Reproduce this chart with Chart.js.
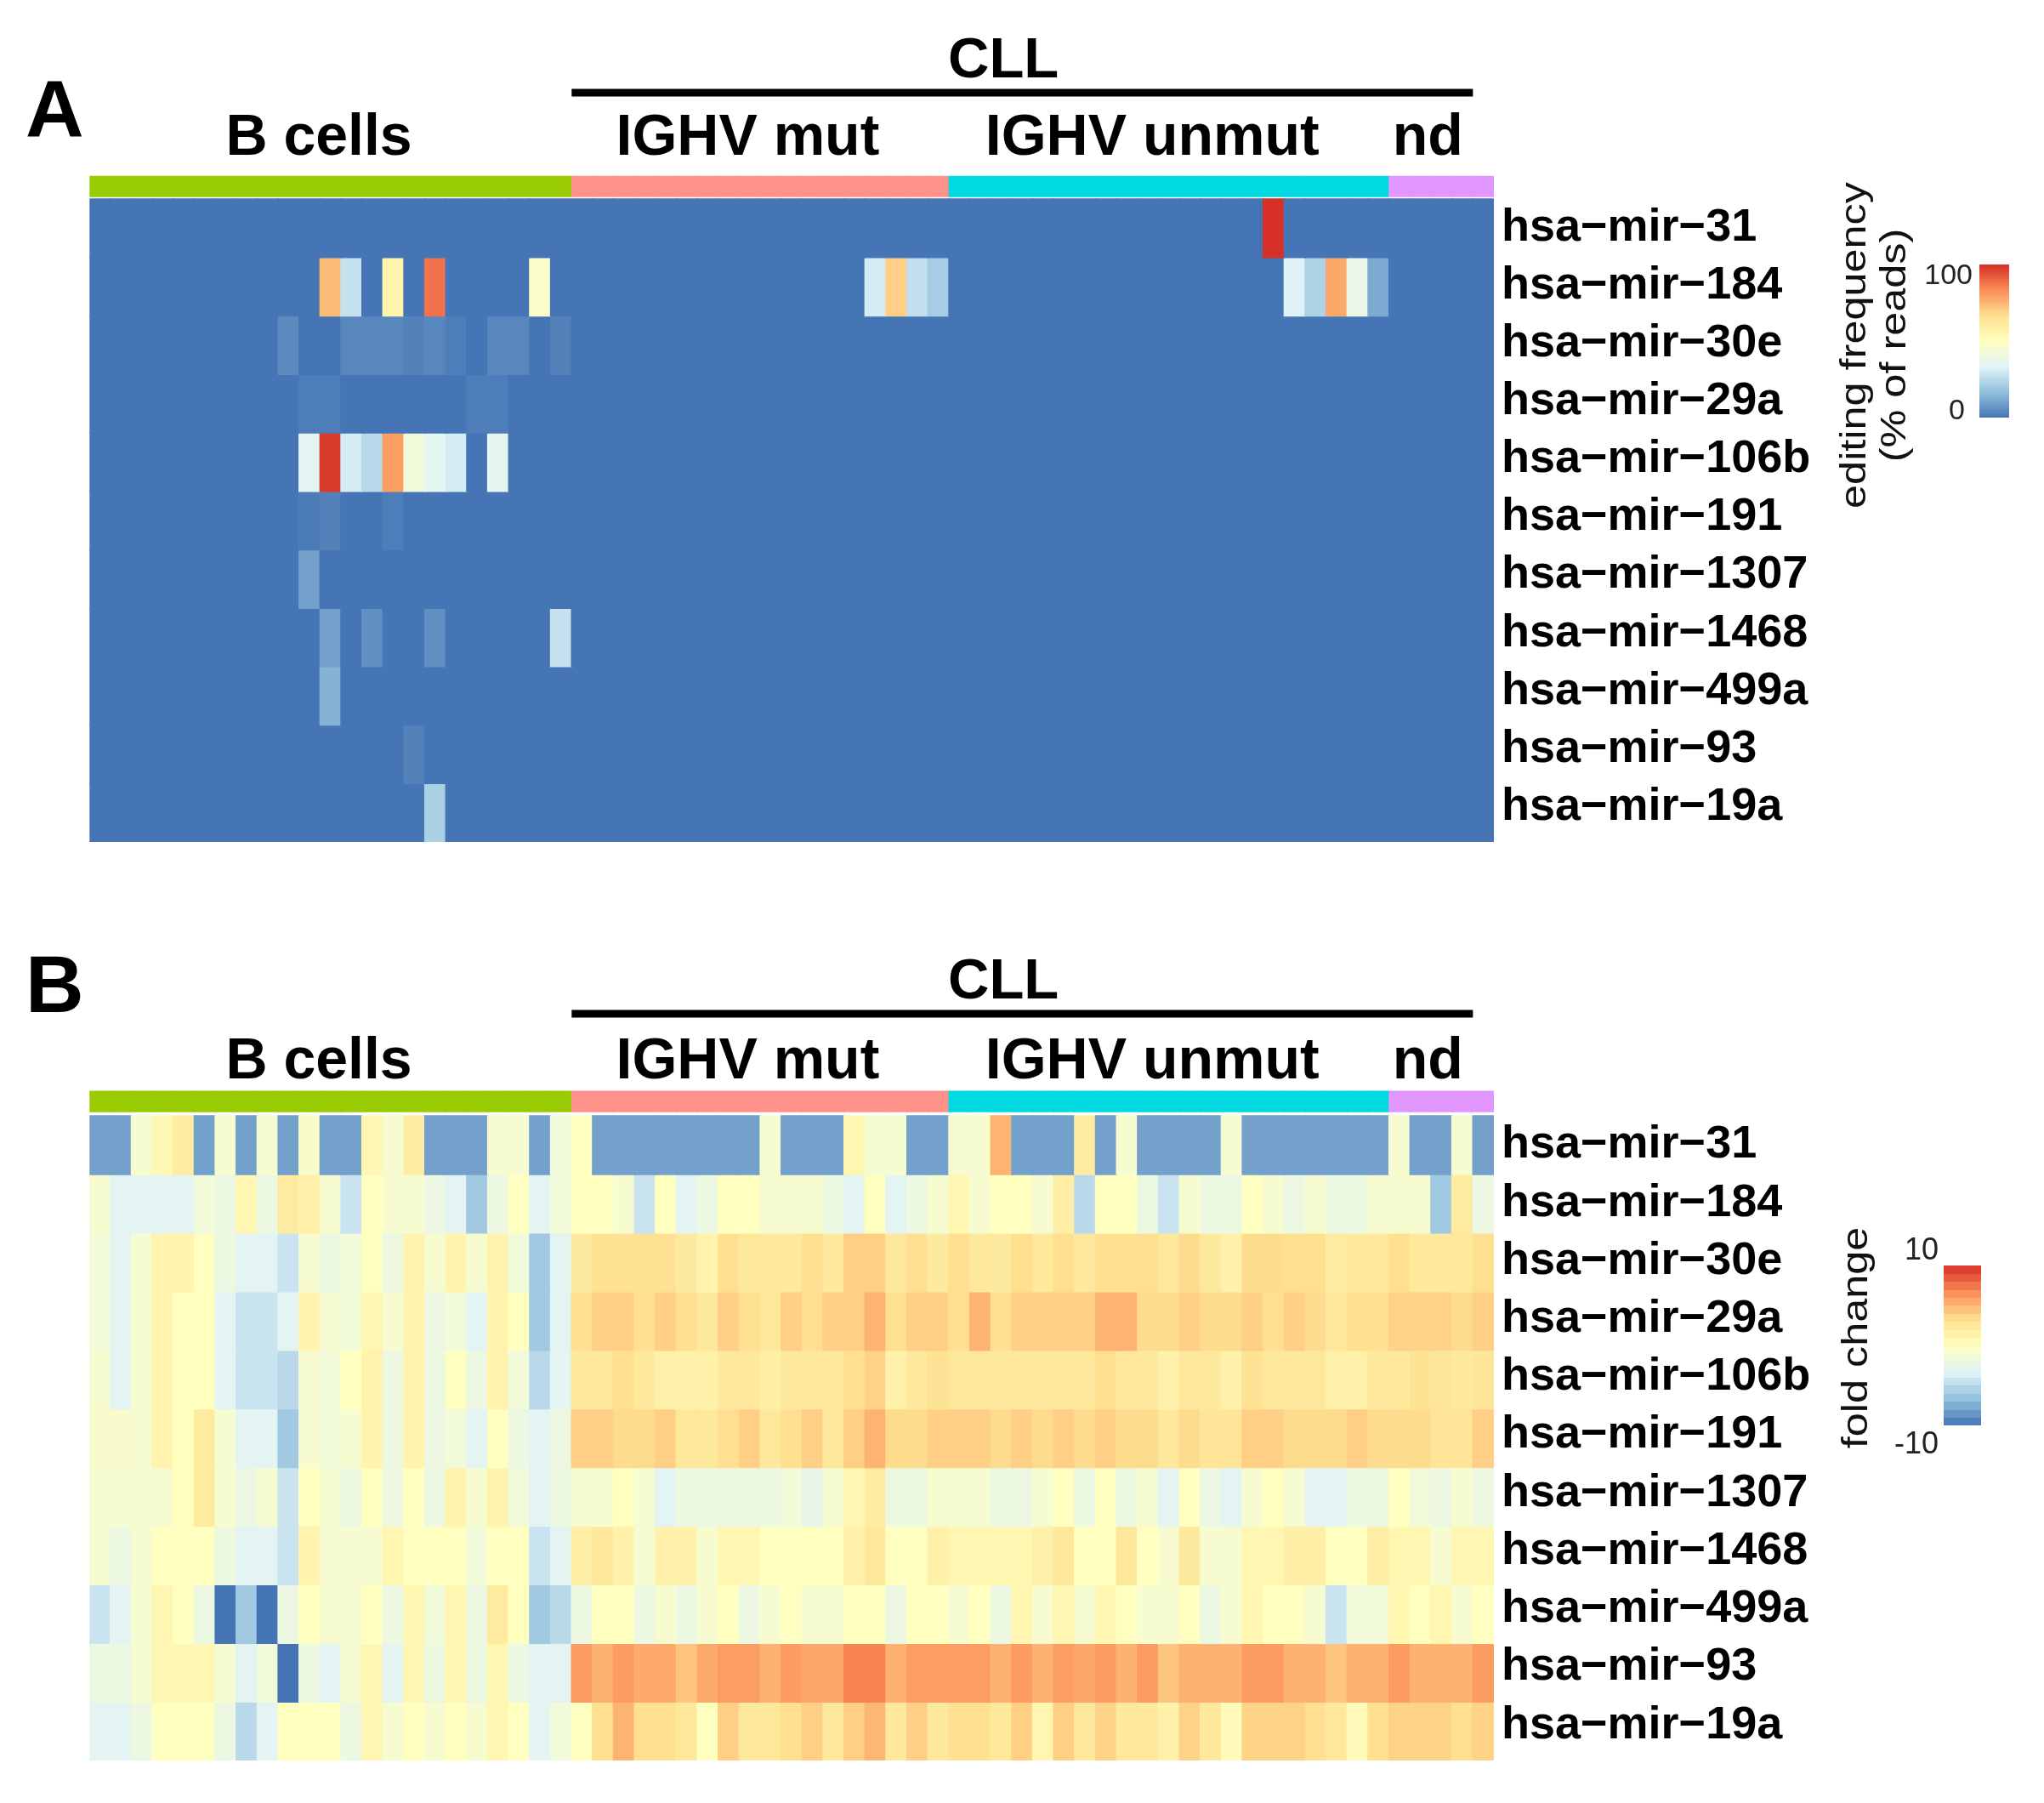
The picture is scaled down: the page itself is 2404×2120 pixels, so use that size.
<!DOCTYPE html>
<html>
<head>
<meta charset="utf-8">
<script src="https://cdn.jsdelivr.net/npm/chart.js@4.4.1/dist/chart.umd.min.js"></script>
<style>
html,body{margin:0;padding:0;background:#ffffff;}
#wrap{position:relative;width:2404px;height:2120px;background:#fff;}
canvas{position:absolute;left:0;}
#cA{top:0;}
#cB{top:1060px;}
</style>
</head>
<body>
<div id="wrap">
<canvas id="cA" width="2404" height="1060"></canvas>
<canvas id="cB" width="2404" height="1060"></canvas>
</div>
<script>
// ---------------- DATA ----------------
const mirnas = ['hsa\u2212mir\u221231','hsa\u2212mir\u2212184','hsa\u2212mir\u221230e','hsa\u2212mir\u221229a',
  'hsa\u2212mir\u2212106b','hsa\u2212mir\u2212191','hsa\u2212mir\u22121307','hsa\u2212mir\u22121468',
  'hsa\u2212mir\u2212499a','hsa\u2212mir\u221293','hsa\u2212mir\u221219a'];
const groupNames = ['B cells','IGHV mut','IGHV unmut','nd'];
const groupSizes = [23, 18, 21, 5];
const superGroup = 'CLL';

// Panel A: editing frequency (% of reads); columns: B cells | IGHV mut | IGHV unmut | nd
const edit_mir31 = [
  0,0,0,0,0,0,0,0,0,0,0,0,0,0,0,0,0,0,0,0,0,0,0,
  0,0,0,0,0,0,0,0,0,0,0,0,0,0,0,0,0,0,
  0,0,0,0,0,0,0,0,0,0,0,0,0,0,0,100,0,0,0,0,0,
  0,0,0,0,0];
const edit_mir184 = [
  0,0,0,0,0,0,0,0,0,0,0,74,28,0,56,0,88,0,0,0,0,47,0,
  0,0,0,0,0,0,0,0,0,0,0,0,0,0,31,70,27,21,
  0,0,0,0,0,0,0,0,0,0,0,0,0,0,0,0,33,23,78,38,12,
  0,0,0,0,0];
const edit_mir30e = [
  0,0,0,0,0,0,0,0,0,5,0,0,4,4,4,3,4,2,0,4,4,0,3,
  0,0,0,0,0,0,0,0,0,0,0,0,0,0,0,0,0,0,
  0,0,0,0,0,0,0,0,0,0,0,0,0,0,0,0,0,0,0,0,0,
  0,0,0,0,0];
const edit_mir29a = [
  0,0,0,0,0,0,0,0,0,0,2,2,0,0,0,0,0,0,2,2,0,0,0,
  0,0,0,0,0,0,0,0,0,0,0,0,0,0,0,0,0,0,
  0,0,0,0,0,0,0,0,0,0,0,0,0,0,0,0,0,0,0,0,0,
  0,0,0,0,0];
const edit_mir106b = [
  0,0,0,0,0,0,0,0,0,0,35,98,31,25,80,42,36,31,0,36,0,0,0,
  0,0,0,0,0,0,0,0,0,0,0,0,0,0,0,0,0,0,
  0,0,0,0,0,0,0,0,0,0,0,0,0,0,0,0,0,0,0,0,0,
  0,0,0,0,0];
const edit_mir191 = [
  0,0,0,0,0,0,0,0,0,0,1.5,3,0,0,2,0,0,0,0,0,0,0,0,
  0,0,0,0,0,0,0,0,0,0,0,0,0,0,0,0,0,0,
  0,0,0,0,0,0,0,0,0,0,0,0,0,0,0,0,0,0,0,0,0,
  0,0,0,0,0];
const edit_mir1307 = [
  0,0,0,0,0,0,0,0,0,0,10,0,0,0,0,0,0,0,0,0,0,0,0,
  0,0,0,0,0,0,0,0,0,0,0,0,0,0,0,0,0,0,
  0,0,0,0,0,0,0,0,0,0,0,0,0,0,0,0,0,0,0,0,0,
  0,0,0,0,0];
const edit_mir1468 = [
  0,0,0,0,0,0,0,0,0,0,0,10,0,6,0,0,6,0,0,0,0,0,28,
  0,0,0,0,0,0,0,0,0,0,0,0,0,0,0,0,0,0,
  0,0,0,0,0,0,0,0,0,0,0,0,0,0,0,0,0,0,0,0,0,
  0,0,0,0,0];
const edit_mir499a = [
  0,0,0,0,0,0,0,0,0,0,0,14,0,0,0,0,0,0,0,0,0,0,0,
  0,0,0,0,0,0,0,0,0,0,0,0,0,0,0,0,0,0,
  0,0,0,0,0,0,0,0,0,0,0,0,0,0,0,0,0,0,0,0,0,
  0,0,0,0,0];
const edit_mir93 = [
  0,0,0,0,0,0,0,0,0,0,0,0,0,0,0,3,0,0,0,0,0,0,0,
  0,0,0,0,0,0,0,0,0,0,0,0,0,0,0,0,0,0,
  0,0,0,0,0,0,0,0,0,0,0,0,0,0,0,0,0,0,0,0,0,
  0,0,0,0,0];
const edit_mir19a = [
  0,0,0,0,0,0,0,0,0,0,0,0,0,0,0,0,22,0,0,0,0,0,0,
  0,0,0,0,0,0,0,0,0,0,0,0,0,0,0,0,0,0,
  0,0,0,0,0,0,0,0,0,0,0,0,0,0,0,0,0,0,0,0,0,
  0,0,0,0,0];

// Panel B: fold change (-10 .. 10)
const fc_mir31 = [
  -8,-8,-1,0.7,2,-8,-1,-8,-1,-8,-0.7,-8,-8,0.7,-1,2,-8,-8,-8,-1,-1,-8,-1.5,
  0,-8,-8,-8,-8,-8,-8,-8,-8,-1,-8,-8,-8,1,-1,-1,-8,-8,
  -1,-1,5.1,-8,-8,-8,2,-8,-1,-8,-8,-8,-8,-1,-8,-8,-8,-8,-8,-8,-8,
  -1,-8,-8,-1,-8];
const fc_mir184 = [
  -1,-3,-3,-3,-3,-1.5,-2,1,-2,2.2,1.5,-1,-4.3,0,-1,-1,-2,-3,-6,-2,0,-3,-1.5,
  0,0,-1,-4.3,0,-3,-2,0,0,-1,-1,-1,-2,-3,0,-3,-2,-1,
  1,-1,0,0,-1,1.8,-5,0,0,-2,-4.3,-1,-2,-2,0,-1,-2,-1,-2,-2,-1,
  -1,-1,-6,2.2,-2];
const fc_mir30e = [
  -1.5,-3,-1,1.3,1.3,0,-2,-3,-3,-4.3,-1,-2,-1.5,0,-2,1.3,-1,1.3,-1,1.3,-1.5,-6,-3,
  2.3,3.2,3.2,3.2,3.2,2.3,1.3,3.3,2.5,2.5,2.5,3.3,2.5,4.0,4.0,2.5,3.3,2.3,
  3.3,2.5,2.3,3.3,2.5,3.3,2.5,3.3,3.3,3.3,2.5,3.5,2.5,1.5,3.5,3.5,3.3,3.3,2.2,2.5,2.5,
  3.3,2.5,2.5,2.5,3.3];
const fc_mir29a = [
  -1.5,-3,-1,1.3,0,0,-3,-4.3,-4.3,-3,1.3,-1,-1.5,1,-1,1.3,-2,-1.5,-3,1.3,0,-6,-3,
  3.3,4.0,4.0,3.3,4.0,3.3,2.5,4.0,3.3,2.5,4.0,3.3,4.0,4.0,5.1,3.3,4.0,4.0,
  3.3,5.1,3.3,4.0,4.0,4.0,4.0,5.1,5.1,3.5,3.5,4.0,3.5,3.5,4.0,3.3,4.0,3.5,2.5,3.3,3.3,
  3.9,3.9,3.9,3.5,4.0];
const fc_mir106b = [
  -1,-3,-1,1.3,0,0,-3,-4.3,-4.3,-5,-1,-1.5,0,1.3,-2,1.3,-2,0,-2,1.3,-1.5,-5,-3,
  2.5,2.5,3.3,2.5,1.5,1.5,1.5,2.5,2.5,1.8,2.5,2.5,2.5,3.3,3.9,1.5,2.5,3.0,
  2.5,2.5,2.5,2.5,2.5,2.5,2.5,3.3,2.5,2.5,1.5,2.5,2.5,1.5,3.0,2.5,2.5,2.5,1.5,1.5,2.5,
  2.5,3.0,2.7,2.5,2.7];
const fc_mir191 = [
  -0.8,-0.8,-1,1.3,0,2.2,-1,-3,-3,-6,-1,-1.5,-1,1.3,-2,1.3,-2,-1.5,-3,0,-2,-3,-2,
  4.0,4.0,3.5,3.5,4.0,2.5,2.5,3.3,4.0,2.5,3.3,4.0,2.5,4.0,5.1,3.5,3.5,4.0,
  4.0,4.0,3.5,4.0,3.5,4.0,3.5,4.0,3.5,3.5,2.5,3.5,2.8,2.8,4.0,4.0,3.5,3.5,3.5,4.0,3.5,
  3.5,3.5,2.8,2.8,4.0];
const fc_mir1307 = [
  -1,-1,-1,-1,0,2.2,-1,-2,-1,-4.3,0,-1,-2,0,-2,0,-2,1.3,-1,1.3,-1.5,-3,-2,
  -1,-1,0,-1,-3,-2,-2,-2,-2,-2,-1.5,-2.5,-1,1,2,-2,-2,-1,
  -1,-1,-2,-2,-1,0,-2,0,-2,-1,-3,0,-2,-3,-1,0,-1,-3,-3,-2,-2,
  0,-1.5,-2,-1,-2];
const fc_mir1468 = [
  -1,-2,-1,0,0,0,-2,-3,-3,-4.3,1.3,-1,-1,-1,1,0,0,0,-1.5,0,0,-4.3,-3,
  1.8,2.5,1.5,-1,1.5,1.5,-1,1,1,0,0,0,0,1.5,2.5,0,0,1.5,
  1,1,1,1,1.5,2.5,0,0,2.5,0,-1,2.3,-1,-1,1,1,1.8,1.8,0,0,1.8,
  1,1,-1,1,1];
const fc_mir499a = [
  -4.3,-3,-1,1,0,-2,-10,-6,-10,-2,0,-1,-1,0,-2,1,-1.5,1,-2,2.2,0,-6,-5,
  -2,0,0,-2,-1,-2,-1,0,-2,-1,0,-1,-1,0,0,-2,0,0,
  -1,0,-2,1,-1,1,-1,1,0,-1,-1,0,-2,-1,1,0,0,-1,-4.3,-1.5,-1.5,
  1,0,1,-1,0];
const fc_mir93 = [
  -2,-2,-1,1,1,1,-1,-3,-1.5,-10,-2,-3,-1,1,-3,1,-2,1,-2,1,-2,-3,-3,
  6.1,5.2,6.1,5.5,5.5,4.4,5.5,6.0,6.0,5.2,6.1,5.6,5.6,7,7,5.2,6.0,6.0,
  6.0,6.0,5.2,6.1,5.2,6.0,5.6,6.1,5.2,6.1,4.4,5.2,5.2,5.2,6.1,6.1,5.2,5.2,4.4,5.2,5.2,
  6.1,5.2,5.2,5.2,6.1];
const fc_mir19a = [
  -3,-3,-2,0,0,0,-2,-5,-3,0,0,0,-2,1,-1,0,-1,0,-1,1,0,-3,-1.5,
  0,3.3,5.1,3.3,3.3,2.5,0,4.0,2.5,2.5,3.3,4.0,2.5,4.0,5.0,2.5,4.0,2.5,
  3.3,3.3,2.5,4.0,1,4.0,2.5,3.9,2.5,2.5,1.5,3.9,2.5,0.3,3.9,3.9,3.9,3.3,2.5,0.3,3.3,
  3.9,3.9,3.9,3.3,3.9];

const editRange = [0, 100];
const editTicks = ['100', '0'];
const fcRange = [-10, 10];
const fcTicks = ['10', '-10'];

// ---------------- STYLE ----------------
const FF = "'Liberation Sans', Arial, Helvetica, sans-serif";
Chart.defaults.font.family = FF;
const groupColors = ['#99CC00', '#FF928A', '#00DAE0', '#E096FD'];
const ramp = ['#4575B4','#91BFDB','#E0F3F8','#FFFFBF','#FEE090','#FC8D59','#D73027'];

function hexToRgb(h){ return [parseInt(h.slice(1,3),16), parseInt(h.slice(3,5),16), parseInt(h.slice(5,7),16)]; }
const rampRgb = ramp.map(hexToRgb);
function colorFor(v, lo, hi){
  let t = (v - lo) / (hi - lo);
  t = Math.max(0, Math.min(1, t));
  const p = t * (rampRgb.length - 1);
  const i = Math.min(rampRgb.length - 2, Math.floor(p));
  const f = p - i;
  const a = rampRgb[i], b = rampRgb[i+1];
  const c = a.map((x, k) => Math.round(x + (b[k] - x) * f));
  return `rgb(${c[0]},${c[1]},${c[2]})`;
}

const samples = [];
const sampleGroup = [];
const prefixes = ['B', 'M', 'U', 'N'];
groupSizes.forEach((n, g) => { for (let i = 0; i < n; i++) { samples.push(prefixes[g] + (i+1)); sampleGroup.push(g); } });
const nS = samples.length;

const editMatrix = [edit_mir31, edit_mir184, edit_mir30e, edit_mir29a, edit_mir106b, edit_mir191,
  edit_mir1307, edit_mir1468, edit_mir499a, edit_mir93, edit_mir19a];
const fcMatrix = [fc_mir31, fc_mir184, fc_mir30e, fc_mir29a, fc_mir106b, fc_mir191,
  fc_mir1307, fc_mir1468, fc_mir499a, fc_mir93, fc_mir19a];

// label positions in column units
const groupLabelPos = [10.94, 31.4, 50.7, 63.85];
const cllPos = 43.6, cllLine = [23, 66.0];

const decor = {
  id: 'decor',
  afterDraw(chart, args, o) {
    const ctx = chart.ctx, ca = chart.chartArea;
    const cw = (ca.right - ca.left) / nS;
    const px = u => ca.left + u * cw;
    ctx.save();
    ctx.fillStyle = '#000';
    ctx.textBaseline = 'alphabetic';
    ctx.textAlign = 'left';
    ctx.font = `bold 95px ${FF}`;
    ctx.fillText(o.letter, 30, o.letterY);
    ctx.textAlign = 'center';
    ctx.font = `bold 67px ${FF}`;
    ctx.fillText(superGroup, px(cllPos), o.cllY);
    ctx.fillRect(px(cllLine[0]), o.lineY - 4.5, px(cllLine[1]) - px(cllLine[0]), 9);
    ctx.font = `bold 68px ${FF}`;
    groupNames.forEach((g, i) => ctx.fillText(g, px(groupLabelPos[i]), o.groupY));
    // legend title (rotated)
    ctx.font = `42px ${FF}`;
    o.title.forEach((t, i) => {
      ctx.save();
      ctx.translate(o.titleX[i], o.titleCY);
      ctx.rotate(-Math.PI / 2);
      ctx.scale(1.2, 1);
      ctx.textAlign = 'center';
      ctx.fillStyle = '#111';
      ctx.fillText(t, 0, 0);
      ctx.restore();
    });
    // colour bar
    const [x0, x1, y0, y1] = o.bar;
    const nb = o.bands;
    const bh = (y1 - y0) / nb;
    for (let b = 0; b < nb; b++) {
      const t = (b + 0.5) / nb; // from bottom
      const v = o.range[0] + t * (o.range[1] - o.range[0]);
      ctx.fillStyle = colorFor(v, o.range[0], o.range[1]);
      const yTop = y1 - (b + 1) * bh;
      const yBot = y1 - b * bh;
      ctx.fillRect(x0, Math.floor(yTop), x1 - x0, Math.ceil(yBot) - Math.floor(yTop));
    }
    ctx.fillStyle = '#222';
    ctx.font = `${o.tickFont}px ${FF}`;
    ctx.textAlign = 'right';
    o.ticks.forEach((t, i) => ctx.fillText(t, o.tickX[i], o.tickY[i]));
    ctx.restore();
  }
};

function makeChart(id, matrix, range, cfg) {
  const common = { grouped: false, barPercentage: 1, categoryPercentage: 1, borderWidth: 0, inflateAmount: 0.8 };
  const datasets = [];
  const annColors = sampleGroup.map(g => groupColors[g]);
  datasets.push(Object.assign({
    label: 'annotation',
    data: samples.map(() => cfg.annot),
    backgroundColor: annColors,
    borderColor: annColors
  }, common, { inflateAmount: 0.5 }));
  matrix.forEach((row, r) => {
    const cols = row.map(v => colorFor(v, range[0], range[1]));
    datasets.push(Object.assign({
      label: mirnas[r],
      data: row.map(() => [r, r + 1]),
      backgroundColor: cols,
      borderColor: cols
    }, common));
  });
  return new Chart(document.getElementById(id), {
    type: 'bar',
    data: { labels: samples, datasets },
    options: {
      responsive: false, animation: false, events: [],
      devicePixelRatio: 1,
      layout: { padding: { left: 105.3, right: 0, top: cfg.top, bottom: cfg.bottom } },
      plugins: { legend: { display: false }, tooltip: { enabled: false }, decor: cfg.decor },
      scales: {
        x: { type: 'category', display: false, offset: true, grid: { display: false } },
        y: {
          type: 'linear', position: 'right', reverse: true, min: -0.45, max: 11,
          grid: { display: false, drawTicks: false }, border: { display: false },
          afterBuildTicks: s => { s.ticks = mirnas.map((_, i) => ({ value: 0.5 + i * 0.99 })); },
          afterFit: s => { s.width = 2404 - 1757; },
          ticks: {
            autoSkip: false, maxRotation: 0, padding: 9, color: '#000',
            font: { size: 54, weight: 'bold', family: FF },
            callback: (v, i) => mirnas[i]
          }
        }
      }
    },
    plugins: [decor]
  });
}

makeChart('cA', editMatrix, editRange, {
  top: 234 - 0.45 * (756 / 11), bottom: 70, annot: [-0.39, -0.04],
  decor: {
    letter: 'A', letterY: 161, cllY: 91, lineY: 109, groupY: 182,
    title: ['editing frequency', '(% of reads)'], titleX: [2194, 2241], titleCY: 406,
    bar: [2328, 2363, 311, 491], bands: 100, range: editRange,
    ticks: editTicks, tickX: [2320, 2311], tickY: [334, 493], tickFont: 34
  }
});

makeChart('cB', fcMatrix, fcRange, {
  top: 252 - 0.45 * (758 / 11), bottom: 50, annot: [-0.42, -0.07],
  decor: {
    letter: 'B', letterY: 130, cllY: 114, lineY: 132, groupY: 208,
    title: ['fold change'], titleX: [2196], titleCY: 513,
    bar: [2286, 2330, 428, 616], bands: 20, range: fcRange,
    ticks: fcTicks, tickX: [2280, 2280], tickY: [421, 649], tickFont: 36
  }
});
</script>
</body>
</html>
